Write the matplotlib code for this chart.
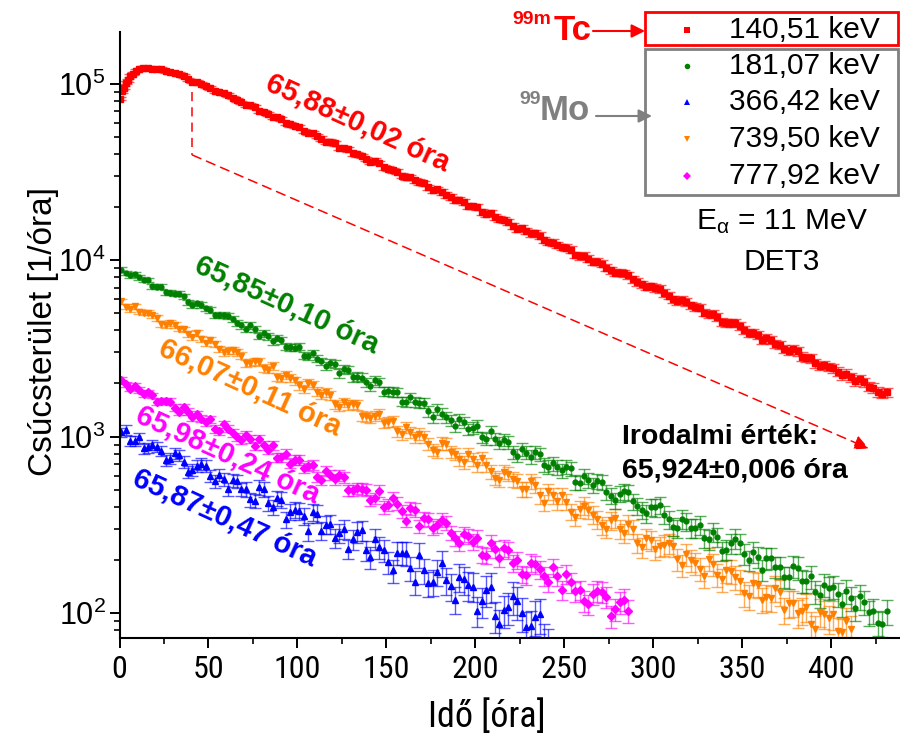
import matplotlib
matplotlib.use('Agg')
import matplotlib.pyplot as plt
import numpy as np
from matplotlib import font_manager
from matplotlib.font_manager import FontProperties
from matplotlib.colors import to_rgba
from matplotlib.lines import Line2D
from matplotlib.patches import Rectangle
from matplotlib.ticker import MultipleLocator, LogLocator, NullFormatter

plt.rcParams['font.family'] = ['Liberation Sans', 'DejaVu Sans']
plt.rcParams['mathtext.fontset'] = 'custom'
plt.rcParams['mathtext.rm'] = 'Liberation Sans'
plt.rcParams['mathtext.it'] = 'Liberation Sans:italic'
plt.rcParams['mathtext.bf'] = 'Liberation Sans:bold'

# meresi idopontok [ora]
ido = [1, 6, 11, 16, 21, 26, 31, 36, 41, 46,
       51, 56, 61, 66, 71, 76, 81, 86, 91, 96,
       101, 106, 111, 116, 121, 126, 131, 136, 141, 146,
       151, 156, 161, 166, 171, 176, 181, 186, 191, 196,
       201, 206, 211, 216, 221, 226, 231, 236, 241, 246,
       251, 256, 261, 266, 271, 276, 281, 286, 291, 296,
       301, 306, 311, 316, 321, 326, 331, 336, 341, 346,
       351, 356, 361, 366, 371, 376, 381, 386, 391, 396,
       401, 406, 411, 416, 421, 426, 431]
ido_kozep = [3.5, 8.5, 13.5, 18.5, 23.5, 28.5, 33.5, 38.5, 43.5, 48.5,
             53.5, 58.5, 63.5, 68.5, 73.5, 78.5, 83.5, 88.5, 93.5, 98.5,
             103.5, 108.5, 113.5, 118.5, 123.5, 128.5, 133.5, 138.5, 143.5, 148.5,
             153.5, 158.5, 163.5, 168.5, 173.5, 178.5, 183.5, 188.5, 193.5, 198.5,
             203.5, 208.5, 213.5, 218.5, 223.5, 228.5, 233.5, 238.5, 243.5, 248.5,
             253.5, 258.5, 263.5, 268.5, 273.5, 278.5, 283.5, 288.5, 293.5, 298.5,
             303.5, 308.5, 313.5, 318.5, 323.5, 328.5, 333.5, 338.5, 343.5, 348.5,
             353.5, 358.5, 363.5, 368.5, 373.5, 378.5, 383.5, 388.5, 393.5, 398.5,
             403.5, 408.5, 413.5, 418.5, 423.5, 428.5]
ido_tc_eleje = [0.5, 1.5, 2.5, 3.5, 4.5, 6, 7.5, 9, 11, 13, 16]

# csucsteruletek [1/ora]
tc_140 = [82500, 90600, 95400, 101800, 104900, 111600, 114500, 118900, 120800, 123400, 123600,
          122200, 118000, 115100, 110900, 103200, 100300, 94800, 89400, 86600, 80800,
          76000, 73600, 69600, 64700, 63000, 58900, 57200, 52800, 50500, 47100,
          46000, 43400, 40500, 39000, 36300, 35600, 33100, 31800, 29500, 28400,
          27300, 24900, 24400, 22900, 22100, 20400, 20000, 18300, 17700, 17000,
          15600, 15200, 14200, 13800, 12700, 12200, 11800, 10700, 10600, 9830,
          9580, 8770, 8510, 8240, 7530, 7080, 6960, 6530, 6010, 5960,
          5540, 5390, 4930, 4780, 4410, 4410, 4020, 3890, 3530, 3540,
          3300, 3060, 3040, 2800, 2600, 2550, 2440, 2220, 2170, 2110,
          1920, 1790, 1780]
tc_140_k = [122100, 122100, 116700, 113900, 106200, 102600, 97100, 91100, 88500, 83700,
            78600, 76000, 69900, 67500, 64700, 60100, 57800, 53900, 52600, 49000,
            47100, 43400, 42500, 39900, 37500, 36600, 33600, 32400, 30100, 29500,
            27800, 25900, 25200, 23500, 21900, 21500, 20200, 18800, 18500, 17100,
            16500, 15100, 14700, 14200, 13000, 12600, 11900, 11500, 10500, 10200,
            9800, 9060, 8480, 8440, 7820, 7300, 7100, 6890, 6290, 5860,
            5810, 5430, 5050, 4960, 4470, 4420, 4260, 3850, 3750, 3600,
            3350, 3140, 3120, 2840, 2780, 2520, 2480, 2330, 2270, 2060,
            2040, 1890, 1750]
mo_181 = [8850, 8210, 8010, 7720, 7060, 6600, 6450, 6240, 5570, 5580,
          5220, 4860, 4840, 4410, 4090, 4090, 3850, 3460, 3520, 3200,
          3240, 2850, 2770, 2500, 2590, 2420, 2170, 2160, 1930, 2030,
          1810, 1780, 1570, 1570, 1550, 1290, 1350, 1240, 1250, 1100,
          1150, 966, 973, 957, 812, 852, 769, 796, 674, 670,
          673, 550, 595, 528, 551, 460, 474, 482, 402, 366,
          396, 361, 307, 341, 302, 315, 261, 269, 228, 264,
          216, 221, 176, 205, 182, 160, 180, 151, 132, 144,
          141, 112, 121, 124, 101, 88, 102]
mo_181_k = [8470, 8300, 7750, 7120, 7060, 6540, 6460, 5790, 5690, 5340,
            4900, 4920, 4630, 4270, 4270, 3720, 3710, 3620, 3240, 3190,
            2880, 2970, 2670, 2620, 2280, 2380, 2190, 2030, 2090, 1800,
            1790, 1580, 1670, 1550, 1390, 1430, 1290, 1150, 1210, 1120,
            992, 1068, 920, 926, 780, 810, 817, 692, 705, 643,
            660, 547, 568, 558, 484, 435, 490, 429, 383, 399,
            408, 339, 301, 330, 302, 267, 287, 224, 248, 249,
            199, 207, 204, 182, 160, 185, 152, 161, 126, 139,
            128, 133, 107, 115, 103, 87]
mo_366 = [1060, 945, 988, 867, 874, 732, 805, 720, 648, 703,
          600, 607, 501, 558, 503, 433, 501, 399, 438, 375,
          379, 290, 365, 317, 265, 300, 262, 294, 207, 235,
          194, 219, 218, 150, 174, 150, 192, 142, 160, 143,
          103, 135, 96, 104, 124, 100, 84, 98, 66]
mo_366_k = [1090, 946, 856, 901, 831, 749, 784, 631, 685, 684,
            556, 573, 567, 502, 440, 517, 420, 447, 340, 385,
            354, 374, 293, 320, 284, 231, 288, 226, 263, 226,
            174, 219, 180, 214, 147, 171, 153, 119, 155, 141,
            116, 141, 86, 108, 116, 83, 95, 70]
mo_739 = [5840, 5270, 5110, 5050, 4700, 4270, 4300, 4050, 3650, 3560,
          3550, 3140, 3070, 3010, 2600, 2680, 2450, 2510, 2140, 2160,
          1950, 2010, 1800, 1790, 1530, 1560, 1520, 1310, 1280, 1340,
          1210, 1070, 1130, 989, 999, 838, 917, 822, 743, 795,
          687, 689, 583, 630, 573, 504, 558, 464, 490, 431,
          428, 349, 405, 361, 313, 335, 300, 321, 249, 266,
          230, 244, 240, 186, 199, 178, 203, 165, 174, 159,
          129, 147, 119, 121, 132, 113, 100, 108, 81, 99,
          98, 78, 81]
mo_739_k = [5460, 5470, 5020, 4860, 4350, 4410, 4090, 3810, 3850, 3390,
            3350, 3000, 3080, 2880, 2620, 2650, 2400, 2180, 2240, 2080,
            1870, 1970, 1730, 1720, 1480, 1510, 1510, 1300, 1310, 1200,
            1220, 1033, 1060, 1036, 908, 822, 909, 800, 719, 745,
            755, 635, 567, 614, 562, 502, 533, 422, 463, 463,
            375, 387, 382, 340, 300, 346, 285, 300, 235, 259,
            239, 248, 201, 215, 192, 162, 189, 155, 173, 152,
            124, 144, 123, 138, 104, 114, 103, 86, 101, 93,
            79, 90]
mo_777 = [2100, 1870, 1830, 1780, 1580, 1590, 1460, 1470, 1290, 1265,
          1250, 1070, 1110, 1000, 1020, 882, 890, 892, 765, 702,
          740, 682, 588, 638, 571, 587, 495, 505, 435, 493,
          409, 417, 334, 385, 343, 303, 338, 285, 250, 273,
          267, 210, 230, 233, 191, 166, 192, 177, 149, 162,
          166, 133, 117, 128, 131, 96, 115, 103]
mo_777_k = [1980, 1940, 1740, 1710, 1590, 1580, 1385, 1385, 1342, 1205,
            1104, 1172, 1052, 957, 972, 971, 839, 758, 799, 737,
            665, 692, 565, 606, 602, 498, 508, 499, 447, 397,
            449, 376, 392, 311, 339, 314, 324, 265, 280, 253,
            214, 249, 204, 226, 199, 163, 189, 162, 181, 135,
            149, 135, 112, 133, 123, 105, 119]

# relativ hibak [%]
hiba_140 = [2.0, 2.0, 2.0, 2.0, 2.0, 2.0, 2.0, 2.0, 2.0, 2.0, 2.0,
            2.0, 2.0, 2.1, 2.1, 2.2, 2.2, 2.3, 2.3, 2.4, 2.4,
            2.5, 2.5, 2.6, 2.6, 2.7, 2.7, 2.8, 2.8, 2.9, 2.9,
            3.0, 3.0, 3.1, 3.1, 3.2, 3.2, 3.3, 3.3, 3.4, 3.4,
            3.5, 3.5, 3.6, 3.6, 3.7, 3.7, 3.8, 3.8, 3.9, 3.9,
            4.0, 4.0, 4.1, 4.1, 4.2, 4.2, 4.3, 4.3, 4.4, 4.4,
            4.5, 4.5, 4.6, 4.6, 4.7, 4.7, 4.8, 4.8, 4.9, 4.9,
            5.0, 5.0, 5.1, 5.1, 5.2, 5.2, 5.3, 5.3, 5.4, 5.4,
            5.5, 5.5, 5.6, 5.6, 5.7, 5.7, 5.8, 5.8, 5.9, 5.9,
            6.0, 6.0, 6.1]
hiba_181 = [2.8, 2.9, 3.0, 3.1, 3.2, 3.2, 3.3, 3.4, 3.5, 3.6,
            3.7, 3.8, 3.9, 4.0, 4.1, 4.2, 4.3, 4.4, 4.5, 4.7,
            4.8, 4.9, 5.0, 5.2, 5.3, 5.4, 5.6, 5.7, 5.8, 6.0,
            6.1, 6.3, 6.4, 6.6, 6.7, 6.9, 7.0, 7.2, 7.3, 7.5,
            7.6, 7.8, 8.0, 8.1, 8.3, 8.5, 8.6, 8.8, 9.0, 9.2,
            9.3, 9.5, 9.7, 9.9, 10.1, 10.3, 10.5, 10.7, 10.9, 11.1,
            11.3, 11.5, 11.7, 11.9, 12.1, 12.3, 12.5, 12.7, 12.9, 13.1,
            13.3, 13.5, 13.7, 13.9, 14.1, 14.3, 14.5, 14.7, 14.9, 15.1,
            15.3, 15.5, 15.7, 15.9, 16.1, 16.3, 16.5]
hiba_366 = [6.0, 6.2, 6.4, 6.6, 6.8, 7.0, 7.2, 7.5, 7.7, 7.9,
            8.2, 8.4, 8.7, 8.9, 9.2, 9.5, 9.8, 10.1, 10.4, 10.7,
            11.0, 11.3, 11.6, 12.0, 12.3, 12.7, 13.0, 13.4, 13.8, 14.2,
            14.6, 15.0, 15.4, 15.8, 16.3, 16.7, 17.2, 17.6, 18.1, 18.6,
            19.1, 19.6, 20.1, 20.6, 21.2, 21.7, 22.3, 22.9, 23.5]
hiba_739 = [3.0, 3.1, 3.2, 3.3, 3.4, 3.5, 3.6, 3.7, 3.8, 3.9,
            4.0, 4.1, 4.3, 4.4, 4.5, 4.6, 4.8, 4.9, 5.0, 5.2,
            5.3, 5.5, 5.6, 5.8, 5.9, 6.1, 6.2, 6.4, 6.6, 6.7,
            6.9, 7.1, 7.3, 7.4, 7.6, 7.8, 8.0, 8.2, 8.4, 8.6,
            8.8, 9.0, 9.2, 9.4, 9.6, 9.8, 10.0, 10.2, 10.5, 10.7,
            10.9, 11.1, 11.4, 11.6, 11.8, 12.1, 12.3, 12.5, 12.8, 13.0,
            13.3, 13.5, 13.8, 14.0, 14.3, 14.5, 14.8, 15.0, 15.3, 15.6,
            15.8, 16.1, 16.4, 16.6, 16.9, 17.2, 17.5, 17.7, 18.0, 18.3,
            18.6, 18.9, 19.2]
hiba_777 = [3.5, 3.6, 3.7, 3.8, 4.0, 4.1, 4.2, 4.3, 4.5, 4.6,
            4.7, 4.9, 5.0, 5.2, 5.3, 5.5, 5.6, 5.8, 5.9, 6.1,
            6.3, 6.4, 6.6, 6.8, 7.0, 7.1, 7.3, 7.5, 7.7, 7.9,
            8.1, 8.3, 8.5, 8.7, 8.9, 9.1, 9.3, 9.5, 9.8, 10.0,
            10.2, 10.4, 10.7, 10.9, 11.1, 11.4, 11.6, 11.9, 12.1, 12.4,
            12.6, 12.9, 13.2, 13.4, 13.7, 14.0, 14.3, 14.6]

energiak = ['140,51 keV', '181,07 keV', '366,42 keV', '739,50 keV', '777,92 keV']
felezesi = ['65,88±0,02 óra', '65,85±0,10 óra', '65,87±0,47 óra',
            '66,07±0,11 óra', '65,98±0,24 óra']
irodalmi = '65,924±0,006 óra'

szinek = ['#ff0000', '#008000', '#0000ff', '#ff8000', '#ff00ff']
jelek = ['s', 'o', '^', 'v', 'D']
jel_meret = [3.8, 3.5, 4.6, 4.6, 3.6]

ido_tc = ido_tc_eleje + ido[4:]
sorozatok = [
    (ido[:len(mo_739)], mo_739, hiba_739, 3),
    (ido_kozep[:len(mo_739_k)], mo_739_k, hiba_739, 3),
    (ido[:len(mo_181)], mo_181, hiba_181, 1),
    (ido_kozep[:len(mo_181_k)], mo_181_k, hiba_181, 1),
    (ido[:len(mo_777)], mo_777, hiba_777, 4),
    (ido_kozep[:len(mo_777_k)], mo_777_k, hiba_777, 4),
    (ido[:len(mo_366)], mo_366, hiba_366, 2),
    (ido_kozep[:len(mo_366_k)], mo_366_k, hiba_366, 2),
    (ido_tc, tc_140, hiba_140, 0),
    (ido_kozep[3:], tc_140_k, hiba_140[10:], 0),
]

W, H = 900, 744
fig = plt.figure(figsize=(W / 100, H / 100), dpi=100)
ax = fig.add_axes([119.5 / W, 1 - 638 / H, 779.5 / W, 606 / H])


def px(x, y):
    return x / W, 1 - y / H


for t, a, h, i in sorozatok:
    a = np.array(a, dtype=float)
    err = a * np.array(h[:len(a)]) / 100
    ax.errorbar(t, a, yerr=err, fmt=jelek[i], color=szinek[i], ms=jel_meret[i],
                ecolor=to_rgba(szinek[i], 0.65), elinewidth=1.0,
                capsize=4.2, capthick=1.0, zorder=3)

ax.set_yscale('log')
ax.set_xlim(0, 438)
ax.set_ylim(72, 1.97e5)
for s in ('top', 'right'):
    ax.spines[s].set_visible(False)
for s in ('left', 'bottom'):
    ax.spines[s].set_linewidth(1.5)
    ax.spines[s].set_zorder(5)
ax.xaxis.set_major_locator(MultipleLocator(50))
ax.xaxis.set_minor_locator(MultipleLocator(25))
ax.yaxis.set_minor_locator(LogLocator(base=10, subs=np.arange(2, 10)))
ax.yaxis.set_minor_formatter(NullFormatter())
ax.tick_params(which='major', direction='out', length=7, width=1.4)
ax.tick_params(which='minor', direction='out', length=4, width=1.2)
ax.tick_params(axis='y', labelsize=22, pad=3)

# keskeny betutipus a vizszintes tengelyhez, ha van
fonts = font_manager.fontManager.ttflist
names = {f.name for f in fonts}
xfont = None
for n in ('Liberation Sans Narrow', 'Arial Narrow', 'Roboto Condensed',
          'Open Sans Condensed'):
    if n in names:
        xfont = dict(family=n)
        break
if xfont is None:
    for n in ('Roboto', 'Open Sans', 'DejaVu Sans', 'Noto Sans'):
        if any(f.name == n and 'condensed' in str(f.stretch) for f in fonts):
            xfont = dict(family=n, stretch='condensed')
            break
if xfont is None:
    xfont = dict(family='Liberation Sans')
    xsize, xlsize = 21, 24
else:
    xsize, xlsize = 23, 26
for lab in ax.get_xticklabels():
    lab.set_fontproperties(FontProperties(size=xsize, **xfont))
ax.tick_params(axis='x', pad=5)

ax.set_ylabel('Csúcsterület [1/óra]', fontsize=24)
ax.yaxis.set_label_coords(-0.078, 0.505)
ax.set_xlabel('Idő [óra]', fontproperties=FontProperties(size=xlsize, **xfont))
ax.xaxis.set_label_coords(0.471, -0.1)

# eltolt Tc gorbe iranya
vonal = (0, (6, 4))
ax.plot([41, 41], [9.0e4, 3.95e4], ls=vonal, color='red', lw=1.1)
ax.annotate('', xy=(421, 855), xytext=(41, 3.95e4),
            arrowprops=dict(arrowstyle='-|>', color='red', lw=1.1,
                            linestyle=vonal, mutation_scale=22,
                            shrinkA=0, shrinkB=0))

# felezesi idok a gorbek mellett
cimke_hely = [(358, 123), (287, 305), (225, 518), (250, 388), (228, 455)]
for i, (x, y) in enumerate(cimke_hely):
    fig.text(*px(x, y), felezesi[i], color=szinek[i], fontsize=21,
             weight='bold', rotation=-24.5, rotation_mode='anchor',
             ha='center', va='center')

fig.text(*px(622, 437), 'Irodalmi érték:', fontsize=20.5, weight='bold',
         ha='left', va='center')
fig.text(*px(622, 470), irodalmi, fontsize=20.5, weight='bold',
         ha='left', va='center')

# jelmagyarazat
fig.add_artist(Rectangle(px(645, 45), 253 / W, 33 / H, transform=fig.transFigure,
                         fill=False, ec='red', lw=2))
fig.add_artist(Rectangle(px(645, 195), 253 / W, 146 / H, transform=fig.transFigure,
                         fill=False, ec='#808080', lw=2))
sor_y = [30, 66, 102, 139, 176]
for i, y in enumerate(sor_y):
    fig.add_artist(Line2D([687 / W], [1 - y / H], marker=jelek[i], color=szinek[i],
                          ms=4, mew=0, transform=fig.transFigure))
    fig.text(*px(729, y), energiak[i], fontsize=21.5, ha='left', va='center')

fig.text(*px(782, 222), r'$\mathregular{E_\alpha}$ = 11 MeV', fontsize=21.5,
         ha='center', va='center')
fig.text(*px(782, 262), 'DET3', fontsize=21.5, ha='center', va='center')

fig.text(*px(592, 31), 'Tc', fontsize=25, weight='bold', color='red',
         ha='right', va='center')
fig.text(*px(551, 20), '99m', fontsize=14, weight='bold', color='red',
         ha='right', va='center')
ax.annotate('', xy=px(645, 31), xytext=px(593, 31), xycoords='figure fraction',
            arrowprops=dict(arrowstyle='-|>', color='red', lw=1.5,
                            mutation_scale=20, shrinkA=0, shrinkB=0))

fig.text(*px(590, 111), 'Mo', fontsize=25, weight='bold', color='#808080',
         ha='right', va='center')
fig.text(*px(541, 100), '99', fontsize=14, weight='bold', color='#808080',
         ha='right', va='center')
ax.annotate('', xy=px(652, 116), xytext=px(596, 116), xycoords='figure fraction',
            arrowprops=dict(arrowstyle='-|>', color='#808080', lw=1.5,
                            mutation_scale=20, shrinkA=0, shrinkB=0))

fig.savefig('out.png', dpi=100)
